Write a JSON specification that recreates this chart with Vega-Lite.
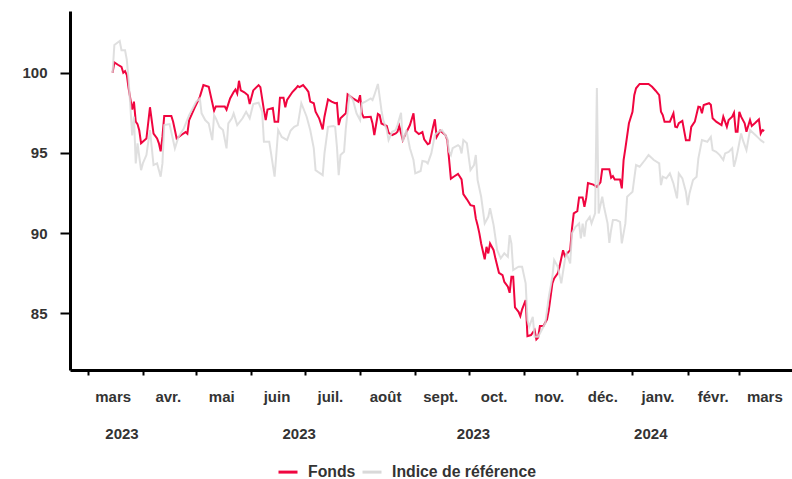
{
  "$schema": "https://vega.github.io/schema/vega-lite/v6.json",
  "width": 722,
  "height": 359,
  "autosize": {"type": "none"},
  "padding": {"left": 70, "top": 11, "right": 0, "bottom": 109},
  "background": "white",
  "config": {"view": {"stroke": null}, "font": "Liberation Sans", "axis": {"grid": false}},
  "datasets": {
    "fonds": [
      {"d":"2023-03-15","v":100.0},{"d":"2023-03-16","v":100.65},{"d":"2023-03-18","v":100.5},{"d":"2023-03-20","v":100.37},{"d":"2023-03-21","v":100.0},{"d":"2023-03-22","v":100.1},{"d":"2023-03-23","v":99.86},{"d":"2023-03-24","v":99.03},{"d":"2023-03-26","v":97.7},{"d":"2023-03-27","v":98.2},{"d":"2023-03-28","v":96.95},{"d":"2023-03-29","v":96.8},{"d":"2023-03-30","v":96.4},{"d":"2023-03-31","v":95.6},
      {"d":"2023-04-03","v":95.9},{"d":"2023-04-05","v":97.85},{"d":"2023-04-07","v":96.2},{"d":"2023-04-09","v":95.9},{"d":"2023-04-10","v":95.6},{"d":"2023-04-11","v":95.1},{"d":"2023-04-12","v":96.0},{"d":"2023-04-13","v":97.3},{"d":"2023-04-17","v":97.3},{"d":"2023-04-18","v":96.95},{"d":"2023-04-20","v":95.9},{"d":"2023-04-23","v":96.15},{"d":"2023-04-25","v":96.3},{"d":"2023-04-26","v":96.2},{"d":"2023-04-27","v":97.05},{"d":"2023-04-30","v":97.8},
      {"d":"2023-05-03","v":98.5},{"d":"2023-05-05","v":99.23},{"d":"2023-05-08","v":99.13},{"d":"2023-05-11","v":97.63},{"d":"2023-05-12","v":97.9},{"d":"2023-05-17","v":97.9},{"d":"2023-05-18","v":97.7},{"d":"2023-05-20","v":98.4},{"d":"2023-05-22","v":98.8},{"d":"2023-05-23","v":98.96},{"d":"2023-05-24","v":98.7},{"d":"2023-05-25","v":99.5},{"d":"2023-05-26","v":98.9},{"d":"2023-05-28","v":98.78},{"d":"2023-05-30","v":98.6},{"d":"2023-05-31","v":98.05},
      {"d":"2023-06-02","v":98.9},{"d":"2023-06-05","v":99.23},{"d":"2023-06-06","v":99.1},{"d":"2023-06-08","v":97.67},{"d":"2023-06-09","v":97.05},{"d":"2023-06-10","v":97.7},{"d":"2023-06-13","v":97.8},{"d":"2023-06-14","v":96.95},{"d":"2023-06-16","v":96.95},{"d":"2023-06-17","v":98.44},{"d":"2023-06-19","v":98.44},{"d":"2023-06-20","v":97.85},{"d":"2023-06-21","v":98.3},{"d":"2023-06-24","v":98.8},{"d":"2023-06-26","v":99.03},{"d":"2023-06-27","v":99.17},{"d":"2023-06-28","v":99.1},{"d":"2023-06-30","v":99.23},
      {"d":"2023-07-02","v":98.96},{"d":"2023-07-03","v":98.8},{"d":"2023-07-04","v":98.2},{"d":"2023-07-06","v":98.1},{"d":"2023-07-07","v":97.57},{"d":"2023-07-09","v":97.16},{"d":"2023-07-11","v":96.47},{"d":"2023-07-12","v":97.26},{"d":"2023-07-14","v":98.34},{"d":"2023-07-16","v":98.2},{"d":"2023-07-18","v":98.1},{"d":"2023-07-19","v":98.12},{"d":"2023-07-20","v":96.74},{"d":"2023-07-21","v":97.16},{"d":"2023-07-24","v":97.47},{"d":"2023-07-25","v":98.65},{"d":"2023-07-28","v":98.4},{"d":"2023-07-31","v":98.2},
      {"d":"2023-08-01","v":98.6},{"d":"2023-08-02","v":97.47},{"d":"2023-08-03","v":97.22},{"d":"2023-08-07","v":97.26},{"d":"2023-08-08","v":96.84},{"d":"2023-08-09","v":96.12},{"d":"2023-08-11","v":97.43},{"d":"2023-08-12","v":97.36},{"d":"2023-08-13","v":96.84},{"d":"2023-08-16","v":96.68},{"d":"2023-08-17","v":96.26},{"d":"2023-08-19","v":96.12},{"d":"2023-08-21","v":96.22},{"d":"2023-08-22","v":96.32},{"d":"2023-08-23","v":96.68},{"d":"2023-08-25","v":95.8},{"d":"2023-08-26","v":96.05},{"d":"2023-08-29","v":96.74},{"d":"2023-08-31","v":97.47},
      {"d":"2023-09-01","v":96.37},{"d":"2023-09-03","v":96.18},{"d":"2023-09-05","v":96.3},{"d":"2023-09-06","v":95.85},{"d":"2023-09-08","v":95.55},{"d":"2023-09-09","v":95.6},{"d":"2023-09-11","v":96.64},{"d":"2023-09-12","v":97.1},{"d":"2023-09-13","v":96.0},{"d":"2023-09-15","v":96.4},{"d":"2023-09-18","v":96.1},{"d":"2023-09-19","v":95.8},{"d":"2023-09-21","v":93.4},{"d":"2023-09-23","v":93.55},{"d":"2023-09-25","v":93.7},{"d":"2023-09-27","v":93.35},{"d":"2023-09-28","v":92.44},{"d":"2023-09-30","v":92.11},
      {"d":"2023-10-02","v":91.75},{"d":"2023-10-04","v":91.69},{"d":"2023-10-05","v":90.92},{"d":"2023-10-06","v":90.5},{"d":"2023-10-07","v":89.99},{"d":"2023-10-08","v":89.36},{"d":"2023-10-10","v":88.37},{"d":"2023-10-11","v":89.15},{"d":"2023-10-12","v":88.74},{"d":"2023-10-13","v":89.36},{"d":"2023-10-15","v":88.94},{"d":"2023-10-16","v":88.43},{"d":"2023-10-18","v":87.53},{"d":"2023-10-20","v":87.39},{"d":"2023-10-21","v":86.97},{"d":"2023-10-23","v":86.66},{"d":"2023-10-24","v":86.28},{"d":"2023-10-25","v":87.28},{"d":"2023-10-26","v":87.28},{"d":"2023-10-27","v":85.37},{"d":"2023-10-29","v":85.1},{"d":"2023-10-30","v":84.83},{"d":"2023-10-31","v":85.25},
      {"d":"2023-11-02","v":85.83},{"d":"2023-11-03","v":83.58},{"d":"2023-11-05","v":83.65},{"d":"2023-11-07","v":83.96},{"d":"2023-11-08","v":83.38},{"d":"2023-11-09","v":83.5},{"d":"2023-11-10","v":84.21},{"d":"2023-11-12","v":84.21},{"d":"2023-11-14","v":84.63},{"d":"2023-11-15","v":85.2},{"d":"2023-11-17","v":86.87},{"d":"2023-11-18","v":87.18},{"d":"2023-11-20","v":87.49},{"d":"2023-11-21","v":87.91},{"d":"2023-11-23","v":88.94},{"d":"2023-11-24","v":88.57},{"d":"2023-11-25","v":88.7},{"d":"2023-11-27","v":88.94},{"d":"2023-11-28","v":90.29},{"d":"2023-11-29","v":91.23},
      {"d":"2023-12-01","v":91.37},{"d":"2023-12-02","v":92.23},{"d":"2023-12-04","v":92.23},{"d":"2023-12-05","v":91.65},{"d":"2023-12-06","v":92.2},{"d":"2023-12-07","v":93.12},{"d":"2023-12-10","v":93.03},{"d":"2023-12-12","v":92.89},{"d":"2023-12-14","v":93.17},{"d":"2023-12-15","v":93.98},{"d":"2023-12-19","v":93.98},{"d":"2023-12-20","v":93.45},{"d":"2023-12-21","v":93.56},{"d":"2023-12-22","v":93.35},{"d":"2023-12-25","v":93.35},{"d":"2023-12-26","v":92.79},{"d":"2023-12-27","v":94.56},{"d":"2023-12-28","v":95.29},{"d":"2023-12-30","v":96.85},
      {"d":"2024-01-01","v":97.57},{"d":"2024-01-02","v":98.6},{"d":"2024-01-03","v":99.03},{"d":"2024-01-05","v":99.3},{"d":"2024-01-10","v":99.3},{"d":"2024-01-12","v":99.13},{"d":"2024-01-14","v":98.88},{"d":"2024-01-16","v":98.6},{"d":"2024-01-17","v":97.57},{"d":"2024-01-18","v":97.36},{"d":"2024-01-19","v":96.95},{"d":"2024-01-22","v":96.95},{"d":"2024-01-24","v":97.47},{"d":"2024-01-25","v":96.63},{"d":"2024-01-26","v":96.6},{"d":"2024-01-27","v":96.85},{"d":"2024-01-29","v":97.0},{"d":"2024-01-31","v":95.8},
      {"d":"2024-02-02","v":95.8},{"d":"2024-02-03","v":96.63},{"d":"2024-02-05","v":96.95},{"d":"2024-02-07","v":97.88},{"d":"2024-02-08","v":97.86},{"d":"2024-02-09","v":97.47},{"d":"2024-02-10","v":97.99},{"d":"2024-02-13","v":98.1},{"d":"2024-02-14","v":98.0},{"d":"2024-02-15","v":97.16},{"d":"2024-02-17","v":96.95},{"d":"2024-02-20","v":96.74},{"d":"2024-02-21","v":97.26},{"d":"2024-02-22","v":96.95},{"d":"2024-02-23","v":96.63},{"d":"2024-02-24","v":97.05},{"d":"2024-02-26","v":97.26},{"d":"2024-02-27","v":97.5},{"d":"2024-02-28","v":96.32},{"d":"2024-02-29","v":96.32},
      {"d":"2024-03-01","v":97.57},{"d":"2024-03-02","v":97.26},{"d":"2024-03-04","v":96.85},{"d":"2024-03-05","v":96.32},{"d":"2024-03-07","v":97.05},{"d":"2024-03-08","v":96.68},{"d":"2024-03-10","v":96.88},{"d":"2024-03-12","v":97.1},{"d":"2024-03-13","v":96.22},{"d":"2024-03-14","v":96.43},{"d":"2024-03-15","v":96.37}
    ],
    "indice": [
      {"d":"2023-03-15","v":100.0},{"d":"2023-03-16","v":101.73},{"d":"2023-03-19","v":101.98},{"d":"2023-03-20","v":101.4},{"d":"2023-03-22","v":101.4},{"d":"2023-03-23","v":100.8},{"d":"2023-03-24","v":99.55},{"d":"2023-03-25","v":97.88},{"d":"2023-03-26","v":96.1},{"d":"2023-03-27","v":97.26},{"d":"2023-03-28","v":94.35},{"d":"2023-03-29","v":95.6},{"d":"2023-03-31","v":93.93},
      {"d":"2023-04-01","v":94.35},{"d":"2023-04-03","v":94.87},{"d":"2023-04-05","v":96.43},{"d":"2023-04-07","v":94.25},{"d":"2023-04-09","v":94.35},{"d":"2023-04-11","v":93.52},{"d":"2023-04-12","v":94.35},{"d":"2023-04-13","v":96.74},{"d":"2023-04-16","v":96.8},{"d":"2023-04-19","v":95.29},{"d":"2023-04-21","v":96.0},{"d":"2023-04-24","v":96.53},{"d":"2023-04-27","v":97.36},{"d":"2023-04-29","v":97.78},
      {"d":"2023-05-01","v":98.2},{"d":"2023-05-03","v":98.4},{"d":"2023-05-04","v":97.47},{"d":"2023-05-06","v":97.05},{"d":"2023-05-08","v":96.84},{"d":"2023-05-10","v":95.8},{"d":"2023-05-11","v":97.36},{"d":"2023-05-12","v":97.16},{"d":"2023-05-14","v":96.63},{"d":"2023-05-16","v":96.43},{"d":"2023-05-18","v":95.29},{"d":"2023-05-19","v":96.84},{"d":"2023-05-21","v":97.16},{"d":"2023-05-22","v":97.47},{"d":"2023-05-24","v":96.74},{"d":"2023-05-27","v":97.16},{"d":"2023-05-29","v":97.57},{"d":"2023-05-31","v":97.16},
      {"d":"2023-06-02","v":98.05},{"d":"2023-06-05","v":98.13},{"d":"2023-06-07","v":97.57},{"d":"2023-06-08","v":95.7},{"d":"2023-06-11","v":95.7},{"d":"2023-06-14","v":93.52},{"d":"2023-06-16","v":96.43},{"d":"2023-06-18","v":96.0},{"d":"2023-06-21","v":95.8},{"d":"2023-06-23","v":96.4},{"d":"2023-06-25","v":96.63},{"d":"2023-06-27","v":96.74},{"d":"2023-06-29","v":98.1},
      {"d":"2023-07-02","v":97.26},{"d":"2023-07-04","v":96.43},{"d":"2023-07-06","v":95.29},{"d":"2023-07-07","v":93.93},{"d":"2023-07-09","v":93.77},{"d":"2023-07-11","v":93.62},{"d":"2023-07-12","v":94.97},{"d":"2023-07-14","v":96.63},{"d":"2023-07-17","v":96.68},{"d":"2023-07-18","v":96.63},{"d":"2023-07-19","v":95.39},{"d":"2023-07-20","v":93.62},{"d":"2023-07-21","v":94.87},{"d":"2023-07-23","v":95.07},{"d":"2023-07-24","v":96.53},{"d":"2023-07-26","v":98.6},{"d":"2023-07-28","v":98.3},{"d":"2023-07-30","v":97.47},
      {"d":"2023-08-01","v":97.05},{"d":"2023-08-02","v":98.1},{"d":"2023-08-04","v":98.2},{"d":"2023-08-07","v":98.4},{"d":"2023-08-08","v":98.3},{"d":"2023-08-09","v":98.6},{"d":"2023-08-11","v":99.3},{"d":"2023-08-12","v":98.5},{"d":"2023-08-13","v":97.67},{"d":"2023-08-14","v":97.05},{"d":"2023-08-16","v":96.43},{"d":"2023-08-17","v":95.8},{"d":"2023-08-19","v":96.32},{"d":"2023-08-21","v":96.43},{"d":"2023-08-22","v":96.74},{"d":"2023-08-24","v":97.5},{"d":"2023-08-25","v":95.7},{"d":"2023-08-27","v":96.43},{"d":"2023-08-29","v":95.29},{"d":"2023-08-31","v":94.56},
      {"d":"2023-09-01","v":93.73},{"d":"2023-09-03","v":93.83},{"d":"2023-09-04","v":93.88},{"d":"2023-09-05","v":94.5},{"d":"2023-09-07","v":94.45},{"d":"2023-09-08","v":94.35},{"d":"2023-09-10","v":94.97},{"d":"2023-09-12","v":96.12},{"d":"2023-09-14","v":96.32},{"d":"2023-09-16","v":96.43},{"d":"2023-09-19","v":95.91},{"d":"2023-09-20","v":95.07},{"d":"2023-09-21","v":94.87},{"d":"2023-09-22","v":95.3},{"d":"2023-09-25","v":95.49},{"d":"2023-09-26","v":95.4},{"d":"2023-09-27","v":94.97},{"d":"2023-09-28","v":95.8},{"d":"2023-09-30","v":95.6},
      {"d":"2023-10-02","v":93.93},{"d":"2023-10-04","v":94.25},{"d":"2023-10-05","v":94.87},{"d":"2023-10-06","v":93.31},{"d":"2023-10-08","v":92.27},{"d":"2023-10-10","v":90.61},{"d":"2023-10-12","v":91.02},{"d":"2023-10-13","v":91.55},{"d":"2023-10-15","v":90.5},{"d":"2023-10-17","v":88.94},{"d":"2023-10-19","v":88.43},{"d":"2023-10-21","v":88.74},{"d":"2023-10-23","v":88.53},{"d":"2023-10-24","v":89.88},{"d":"2023-10-25","v":89.36},{"d":"2023-10-26","v":87.7},{"d":"2023-10-29","v":87.91},{"d":"2023-10-31","v":87.91},
      {"d":"2023-11-02","v":86.87},{"d":"2023-11-03","v":84.58},{"d":"2023-11-04","v":84.16},{"d":"2023-11-06","v":84.79},{"d":"2023-11-07","v":83.54},{"d":"2023-11-09","v":83.54},{"d":"2023-11-11","v":83.96},{"d":"2023-11-13","v":84.38},{"d":"2023-11-15","v":86.03},{"d":"2023-11-17","v":87.28},{"d":"2023-11-18","v":88.32},{"d":"2023-11-20","v":87.91},{"d":"2023-11-22","v":86.87},{"d":"2023-11-24","v":88.32},{"d":"2023-11-25","v":88.74},{"d":"2023-11-27","v":88.12},{"d":"2023-11-28","v":89.99},{"d":"2023-11-30","v":90.4},
      {"d":"2023-12-01","v":90.5},{"d":"2023-12-02","v":90.61},{"d":"2023-12-03","v":89.67},{"d":"2023-12-04","v":90.6},{"d":"2023-12-05","v":89.78},{"d":"2023-12-06","v":90.71},{"d":"2023-12-08","v":91.02},{"d":"2023-12-09","v":90.61},{"d":"2023-12-11","v":91.23},{"d":"2023-12-12","v":99.05},{"d":"2023-12-13","v":91.23},{"d":"2023-12-15","v":92.27},{"d":"2023-12-16","v":91.65},{"d":"2023-12-18","v":90.61},{"d":"2023-12-19","v":89.4},{"d":"2023-12-20","v":90.2},{"d":"2023-12-21","v":90.82},{"d":"2023-12-23","v":90.82},{"d":"2023-12-25","v":90.7},{"d":"2023-12-26","v":89.36},{"d":"2023-12-28","v":90.61},{"d":"2023-12-29","v":92.27},{"d":"2023-12-31","v":92.48},
      {"d":"2024-01-01","v":92.58},{"d":"2024-01-03","v":94.25},{"d":"2024-01-05","v":94.14},{"d":"2024-01-08","v":94.56},{"d":"2024-01-10","v":94.87},{"d":"2024-01-13","v":94.56},{"d":"2024-01-16","v":94.35},{"d":"2024-01-17","v":93.0},{"d":"2024-01-18","v":93.52},{"d":"2024-01-20","v":93.42},{"d":"2024-01-22","v":93.73},{"d":"2024-01-24","v":93.1},{"d":"2024-01-26","v":92.17},{"d":"2024-01-27","v":93.73},{"d":"2024-01-29","v":93.42},{"d":"2024-01-31","v":92.58},
      {"d":"2024-02-01","v":91.75},{"d":"2024-02-02","v":92.48},{"d":"2024-02-04","v":93.31},{"d":"2024-02-06","v":93.52},{"d":"2024-02-07","v":94.66},{"d":"2024-02-09","v":95.8},{"d":"2024-02-12","v":95.7},{"d":"2024-02-14","v":96.0},{"d":"2024-02-15","v":95.18},{"d":"2024-02-17","v":95.07},{"d":"2024-02-19","v":94.87},{"d":"2024-02-21","v":94.56},{"d":"2024-02-22","v":94.97},{"d":"2024-02-24","v":95.07},{"d":"2024-02-26","v":95.29},{"d":"2024-02-27","v":94.14},{"d":"2024-02-28","v":94.56},{"d":"2024-02-29","v":95.07},
      {"d":"2024-03-02","v":96.22},{"d":"2024-03-03","v":95.8},{"d":"2024-03-05","v":95.18},{"d":"2024-03-07","v":96.43},{"d":"2024-03-10","v":96.12},{"d":"2024-03-12","v":95.91},{"d":"2024-03-13","v":95.8},{"d":"2024-03-15","v":95.64}
    ],
    "annees": [{"d":"2023-03-20"},{"d":"2023-06-27"},{"d":"2023-10-03"},{"d":"2024-01-11"}]
  },
  "layer": [
    {
      "data": {"name": "fonds"},
      "mark": {"type": "line", "strokeWidth": 2},
      "encoding": {
        "x": {
          "field": "d", "type": "temporal",
          "scale": {"domain": [{"year": 2023, "month": 2, "date": 19, "hours": 2}, {"year": 2024, "month": 3, "date": 30, "hours": 14}]},
          "axis": {
            "orient": "bottom", "title": null, "grid": false,
            "values": [{"year":2023,"month":3,"date":1},{"year":2023,"month":4,"date":1},{"year":2023,"month":5,"date":1},{"year":2023,"month":6,"date":1},{"year":2023,"month":7,"date":1},{"year":2023,"month":8,"date":1},{"year":2023,"month":9,"date":1},{"year":2023,"month":10,"date":1},{"year":2023,"month":11,"date":1},{"year":2023,"month":12,"date":1},{"year":2024,"month":1,"date":1},{"year":2024,"month":2,"date":1},{"year":2024,"month":3,"date":1}],
            "labelExpr": "['janv.','févr.','mars','avr.','mai','juin','juil.','août','sept.','oct.','nov.','déc.'][month(datum.value)]",
            "labelOffset": 25, "labelOverlap": false, "labelBound": false, "labelFlush": false,
            "tickSize": 5, "tickWidth": 2, "tickColor": "#000000",
            "domainColor": "#000000", "domainWidth": 3,
            "labelFont": "Liberation Sans", "labelFontSize": 15, "labelFontWeight": "bold", "labelColor": "#333333", "labelPadding": 14
          }
        },
        "y": {
          "field": "v", "type": "quantitative",
          "scale": {"domain": [81.47, 103.85], "nice": false, "zero": false},
          "axis": {
            "title": null, "grid": false, "values": [85, 90, 95, 100],
            "tickSize": 10, "tickWidth": 2, "tickColor": "#000000",
            "domainColor": "#000000", "domainWidth": 3,
            "labelFont": "Liberation Sans", "labelFontSize": 15, "labelFontWeight": "bold", "labelColor": "#333333", "labelPadding": 13
          }
        },
        "color": {
          "datum": "Fonds", "type": "nominal",
          "scale": {"domain": ["Fonds", "Indice de référence"], "range": ["#f0053f", "#d9d9d9"]},
          "legend": {
            "orient": "none", "legendX": 207, "legendY": 450, "direction": "horizontal", "title": null,
            "symbolType": "stroke", "symbolStrokeWidth": 3, "symbolSize": 361,
            "labelFont": "Liberation Sans", "labelFontSize": 15.8, "labelFontWeight": "bold", "labelColor": "#333333",
            "labelOffset": 9, "columnPadding": 0, "padding": 0
          }
        }
      }
    },
    {
      "data": {"name": "indice"},
      "mark": {"type": "line", "strokeWidth": 2, "strokeOpacity": 0.85},
      "encoding": {
        "x": {"field": "d", "type": "temporal", "axis": null},
        "y": {
          "field": "v", "type": "quantitative",
          "axis": {
            "title": null, "grid": false, "values": [85, 90, 95, 100],
            "tickSize": 10, "tickWidth": 2, "tickColor": "#000000",
            "domainColor": "#000000", "domainWidth": 3,
            "labelFont": "Liberation Sans", "labelFontSize": 15, "labelFontWeight": "bold", "labelColor": "#333333", "labelPadding": 13
          }
        },
        "color": {"datum": "Indice de référence", "type": "nominal"}
      }
    },
    {
      "data": {"name": "annees"},
      "mark": {"type": "rule", "opacity": 0},
      "encoding": {
        "x": {
          "field": "d", "type": "temporal",
          "axis": {
            "orient": "bottom", "title": null, "grid": false, "domain": false, "ticks": false,
            "values": [{"year":2023,"month":3,"date":20},{"year":2023,"month":6,"date":27,"hours":12},{"year":2023,"month":10,"date":3,"hours":10},{"year":2024,"month":1,"date":11}],
            "labelExpr": "timeFormat(datum.value, '%Y')",
            "labelOverlap": false, "labelBound": false, "labelFlush": false,
            "labelFont": "Liberation Sans", "labelFontSize": 15, "labelFontWeight": "bold", "labelColor": "#333333", "labelPadding": 56
          }
        }
      }
    }
  ],
  "resolve": {"axis": {"x": "independent"}}
}
